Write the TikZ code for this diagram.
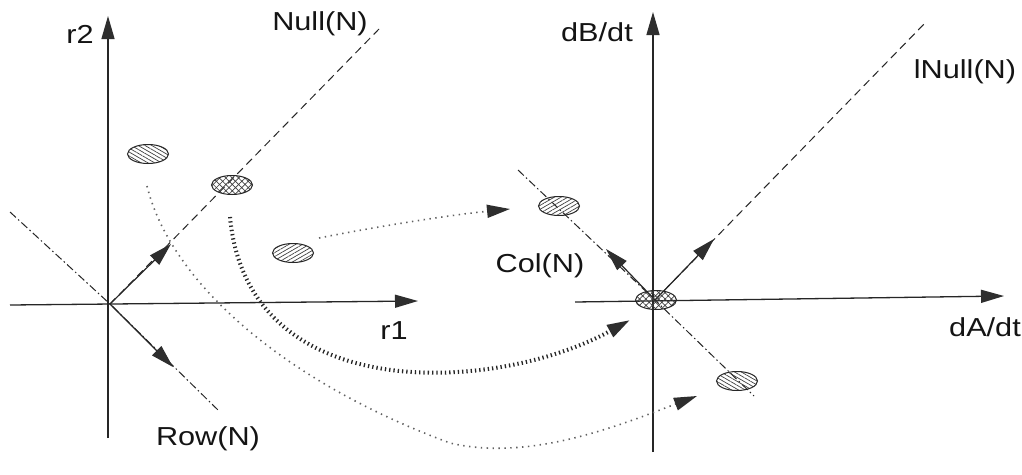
\documentclass[tikz,border=0pt]{standalone}
\usepackage{fontspec}
\setmainfont{Liberation Sans}
\usetikzlibrary{arrows.meta,patterns.meta,shapes.geometric}
\newcommand\wlab[1]{\scalebox{1.18}[1]{#1}}
\begin{document}
\begin{tikzpicture}[x=1pt,y=-1pt,
  tipstyle/.style={-{Triangle[length=23pt,width=13pt,color=black!82]}},
  axis/.style={draw=black!85,line width=1.3pt,tipstyle},
  vec/.style={draw=black!85,line width=1.2pt,tipstyle},
  nullline/.style={draw=black!85,line width=1pt,dash pattern=on 8pt off 5pt},
  rowline/.style={draw=black!85,line width=1pt,dash pattern=on 8pt off 3pt on 1.5pt off 3pt},
  lightdots/.style={draw=black!62,line width=1.6pt,dash pattern=on 1.4pt off 4.5pt,tipstyle},
  heavydots/.style={draw=black!85,line width=4pt,dash pattern=on 1.3pt off 3pt,tipstyle},
  blob/.style={ellipse,draw=black!85,line width=1pt,minimum width=41pt,minimum height=19pt,inner sep=0pt},
  hatchA/.style={blob,pattern={Lines[angle=-30,distance=3.4pt,line width=0.7pt]},pattern color=black!75},
  hatchB/.style={blob,pattern={Lines[angle=30,distance=3.4pt,line width=0.7pt]},pattern color=black!75},
  cross/.style={blob,pattern={Hatch[angle=45,distance=4.5pt,line width=0.7pt]},pattern color=black!75},
  lab/.style={font=\fontsize{26}{28}\selectfont,text=black!92,inner sep=0pt}
]
\useasboundingbox[fill=white] (0,0) rectangle (1022,474);

% ---------- left system ----------
\coordinate (LO) at (110,304);
\coordinate (Lbot) at (108,438);
\coordinate (Ltop) at (108,16);
\coordinate (Lleft) at (10,305);
\coordinate (Lright) at (418,301);
\coordinate (Nulltop) at (379,29);
\coordinate (Rowtl) at (10,212);
\coordinate (Rowend) at (218,410);
\coordinate (NullTip) at (171,244);
\coordinate (RowTip) at (173,367);

\draw[nullline] (LO) -- (Nulltop);
\draw[rowline] (Rowtl) -- (LO) -- (Rowend);
\draw[axis] (Lbot) -- (Ltop);
\draw[axis] (Lleft) -- (Lright);
\draw[vec] (LO) -- (NullTip);
\draw[vec] (LO) -- (RowTip);

\node[lab] (r2) at (80,34) {\wlab{r2}};
\node[lab] (r1) at (394,331) {\wlab{r1}};
\node[lab] (null) at (320,24) {\wlab{Null(N)}};
\node[lab] (row) at (208,439) {\wlab{Row(N)}};

% ---------- right system ----------
\coordinate (RO) at (655,300);
\coordinate (Rbot) at (653,452);
\coordinate (Rtop) at (653,12);
\coordinate (Rleft) at (575,302);
\coordinate (Rright) at (1004,296);
\coordinate (lNulltop) at (926,22);
\coordinate (Coltl) at (518,170);
\coordinate (Colend) at (754,396);
\coordinate (lNullTip) at (714,239);
\coordinate (ColTip) at (606,249);

\draw[nullline] (RO) -- (lNulltop);
\draw[rowline] (Coltl) -- (RO) -- (Colend);
\draw[axis] (Rbot) -- (Rtop);
\draw[axis] (Rleft) -- (Rright);
\draw[vec] (RO) -- (lNullTip);
\draw[vec] (RO) -- (ColTip);

\node[lab] (dbdt) at (597,32) {\wlab{dB/dt}};
\node[lab] (dadt) at (985,327) {\wlab{dA/dt}};
\node[lab] (lnull) at (965,72) {\wlab{lNull(N)}};
\node[lab] (col) at (540,266) {\wlab{Col(N)}};

% ---------- blobs ----------
\node[hatchA] (L1) at (148,154) {};
\node[cross]  (L2) at (232,185) {};
\node[hatchB] (L3) at (293,253) {};
\node[hatchB] (R1) at (559,206) {};
\node[cross]  (R2) at (656,300) {};
\node[hatchA] (R3) at (737,381) {};

% ---------- mapping curves ----------
\coordinate (c1s) at (319,238);
\coordinate (c1e) at (510,209);
\draw[lightdots] (c1s) .. controls (380,226) and (450,215) .. (c1e);

\coordinate (c2s) at (230,217);
\coordinate (c2e) at (630,320);
\draw[heavydots] (c2s) .. controls (248,410) and (500,392) .. (c2e);

\coordinate (c3s) at (147,186);
\coordinate (c3m) at (450,443);
\coordinate (c3e) at (697,396);
\draw[lightdots] (c3s) .. controls (170,280) and (280,380) .. (c3m)
  .. controls (530,462) and (620,425) .. (c3e);
\end{tikzpicture}
\end{document}
